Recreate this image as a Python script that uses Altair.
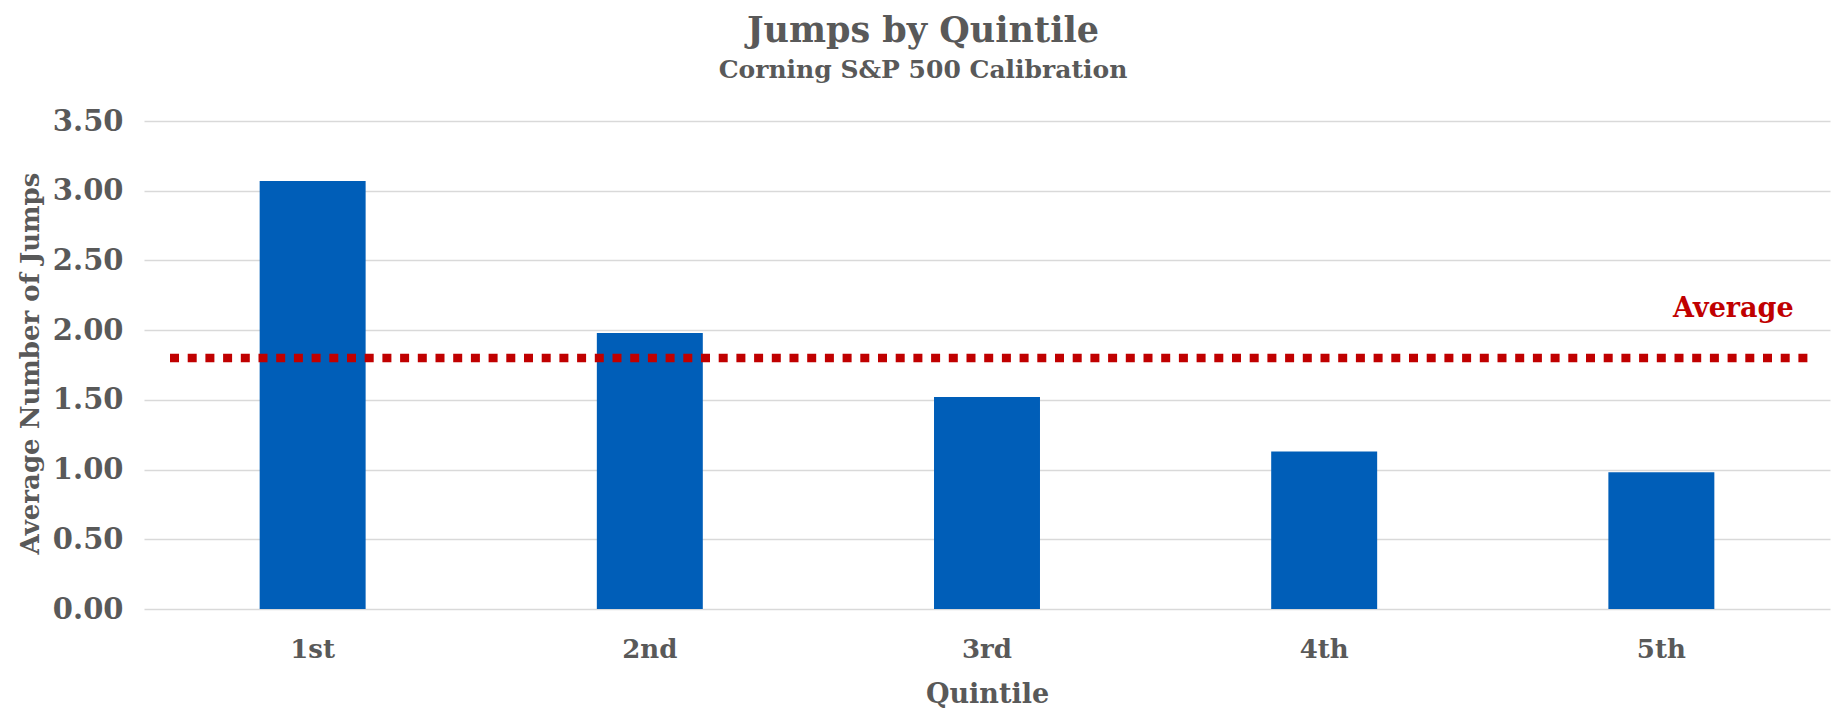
import altair as alt
import pandas as pd

quintiles = ["1st", "2nd", "3rd", "4th", "5th"]
avg_jumps = [3.07, 1.98, 1.52, 1.13, 0.98]
overall_average = 1.80
average_label = "Average"
y_ticks = [0, 0.5, 1.0, 1.5, 2.0, 2.5, 3.0, 3.5]

df = pd.DataFrame({"Quintile": quintiles, "Jumps": avg_jumps})
avg_df = pd.DataFrame({"avg": [overall_average], "label": [average_label], "q": [quintiles[-1]]})

FONT = "DejaVu Serif"
GREY = "#595959"
W, H = 1686, 488

x_scale = alt.Scale(domain=quintiles, paddingInner=0.6857, paddingOuter=0.343)
y_scale = alt.Scale(domain=[0, 3.5], nice=False)

bars = alt.Chart(df).mark_bar(color="#005EB8").encode(
    x=alt.X("Quintile:N", scale=x_scale, sort=quintiles,
            axis=alt.Axis(title="Quintile", labelAngle=0, ticks=False, domain=False,
                          labelFont=FONT, labelFontSize=26, labelFontWeight="bold",
                          labelColor=GREY, labelPadding=27,
                          titleFont=FONT, titleFontSize=27, titleFontWeight="bold",
                          titleColor=GREY, titleY=85, titleBaseline="middle")),
    y=alt.Y("Jumps:Q", scale=y_scale,
            axis=alt.Axis(title="Average Number of Jumps", values=y_ticks, format=".2f",
                          ticks=False, domain=False, grid=True,
                          gridColor="#d9d9d9", gridWidth=1.5,
                          labelFont=FONT, labelFontSize=29, labelFontWeight="bold",
                          labelColor=GREY, labelPadding=21,
                          titleFont=FONT, titleFontSize=26, titleFontWeight="bold",
                          titleColor=GREY, titleX=-114, titleY=242,
                          titleAngle=270, titleAlign="center", titleBaseline="middle")),
)

rule = alt.Chart(avg_df).mark_rule(color="#C00000", strokeWidth=8.5,
                                   strokeDash=[9, 8.7]).encode(
    y=alt.Y("avg:Q", scale=y_scale),
    x=alt.value(26),
    x2=alt.value(1667),
)

label = alt.Chart(avg_df).mark_text(color="#C00000", font=FONT, fontSize=27,
                                    fontWeight="bold", dx=72, dy=-49,
                                    align="center", baseline="middle").encode(
    x=alt.X("q:N", scale=x_scale, sort=quintiles),
    y=alt.Y("avg:Q", scale=y_scale),
    text="label:N",
)

chart = alt.layer(bars, rule, label).properties(
    width=W, height=H,
    title=alt.TitleParams(text="Jumps by Quintile", subtitle="Corning S&P 500 Calibration",
                          font=FONT, fontSize=35, fontWeight="bold", color=GREY,
                          subtitleFont=FONT, subtitleFontSize=25, subtitleFontWeight="bold",
                          subtitleColor=GREY, subtitlePadding=9,
                          anchor="middle", dx=-64, offset=24),
    autosize=alt.AutoSizeParams(type="none"),
    padding={"left": 144, "top": 121, "right": 11, "bottom": 102},
).configure(background="white").configure_view(stroke=None, strokeWidth=0)

chart.save("out.html", embed_options={"renderer": "svg", "actions": False})
